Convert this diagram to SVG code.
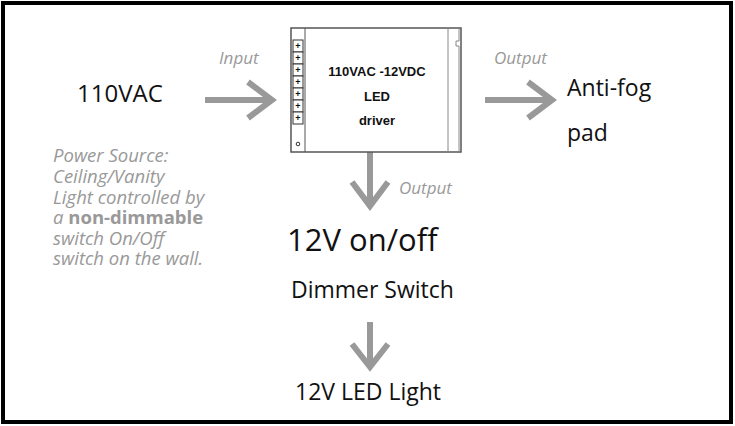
<svg xmlns="http://www.w3.org/2000/svg" width="735" height="426" viewBox="0 0 735 426">
<style>
.t{font-family:"Open Sans","Noto Sans",sans-serif;fill:#111}
.g{font-family:"Open Sans","Noto Sans",sans-serif;font-style:italic;fill:#999;font-size:17px}
.n{font-family:"Open Sans","Noto Sans",sans-serif;font-style:italic;fill:#999;font-size:18.5px}
.a{stroke:#999;stroke-width:6;fill:none}
.h{stroke:#999;stroke-width:6;fill:none;stroke-linejoin:miter}
.b{font-family:"Liberation Sans",Arial,sans-serif;font-weight:bold;font-size:13px;fill:#111;text-anchor:middle}
</style>
<rect x="0" y="0" width="735" height="426" fill="#fff"/>
<rect x="3" y="3" width="728" height="419" fill="none" stroke="#000" stroke-width="4"/>
<g id="connectors">
<line class="a" x1="205" y1="100" x2="272" y2="100"/><polyline class="h" points="248,82 272,100 248,118"/>
<line class="a" x1="485" y1="100" x2="552" y2="100"/><polyline class="h" points="528,82 552,100 528,118"/>
<line class="a" x1="370" y1="152" x2="370" y2="205"/><polyline class="h" points="352,182 370,206 388,182"/>
<line class="a" x1="370" y1="322" x2="370" y2="366"/><polyline class="h" points="352,344 370,367 388,344"/>
<text class="g" x="219" y="64">Input</text>
<text class="g" x="494" y="64">Output</text>
<text class="g" x="399" y="194">Output</text>
</g>
<g id="driver">
<rect x="291" y="28" width="170" height="124" fill="#fff" stroke="#555" stroke-width="1.5"/>
<line x1="305" y1="28" x2="305" y2="152" stroke="#555"/>
<line x1="448" y1="28" x2="448" y2="152" stroke="#888"/>
<path d="M459 28V41H456V46H459V152" fill="none" stroke="#888"/>
<g stroke="#333" fill="#fff">
<rect x="293" y="40" width="10" height="12"/><rect x="293" y="52" width="10" height="12"/><rect x="293" y="64" width="10" height="12"/><rect x="293" y="76" width="10" height="12"/><rect x="293" y="88" width="10" height="12"/><rect x="293" y="100" width="10" height="12"/><rect x="293" y="112" width="10" height="12"/>
</g>
<g font-family="Liberation Sans,sans-serif" font-size="9" font-weight="bold" text-anchor="middle" fill="#111">
<text x="298" y="49">+</text><text x="298" y="61">+</text><text x="298" y="73">+</text><text x="298" y="85">+</text><text x="298" y="97">+</text><text x="298" y="109">+</text><text x="298" y="121">+</text>
</g>
<circle cx="298" cy="144" r="1.8" fill="none" stroke="#333"/>
<text class="b" x="377" y="76">110VAC -12VDC</text>
<text class="b" x="377" y="101">LED</text>
<text class="b" x="377" y="125">driver</text>
</g>
<g id="source"><text class="t" x="77" y="102" font-size="24">110VAC</text></g>
<g id="antifog"><text class="t" x="567" y="96" font-size="23">Anti-fog</text><text class="t" x="567" y="141" font-size="23">pad</text></g>
<g id="note">
<text class="n" x="53" y="162">Power Source:</text>
<text class="n" x="53" y="183">Ceiling/Vanity</text>
<text class="n" x="53" y="204">Light controlled by</text>
<text class="n" x="53" y="224">a <tspan font-style="normal" font-weight="bold">non-dimmable</tspan></text>
<text class="n" x="53" y="245">switch On/Off</text>
<text class="n" x="53" y="265">switch on the wall.</text>
</g>
<g id="switch"><text class="t" x="287" y="251" font-size="31">12V on/off</text><text class="t" x="291" y="298" font-size="23">Dimmer Switch</text></g>
<g id="light"><text class="t" x="295" y="400" font-size="23">12V LED Light</text></g>
</svg>
